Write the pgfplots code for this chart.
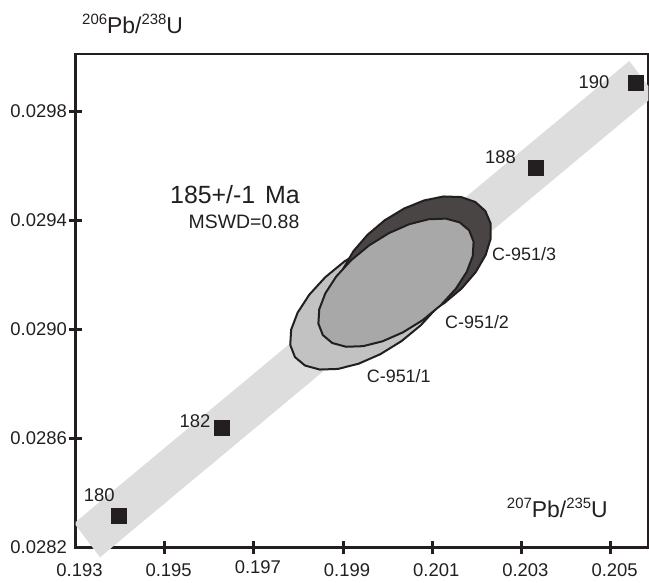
\documentclass[border=0pt]{standalone}
\usepackage{fontspec}
\setmainfont{Liberation Sans}
\usepackage{pgfplots}
\pgfplotsset{compat=1.18}

\definecolor{ink}{RGB}{35,31,32}
\definecolor{bandgray}{RGB}{221,221,221}
\definecolor{ellA}{RGB}{194,194,194}
\definecolor{ellB}{RGB}{168,168,168}
\definecolor{ellC}{RGB}{74,69,69}

\tikzset{
  xlab/.style={anchor=base, xshift=4bp, yshift=-29.2bp, font=\fontsize{18.5}{20}\selectfont},
  ylab/.style={anchor=east, xshift=-8.5bp, font=\fontsize{18.5}{20}\selectfont},
}

\newcommand{\ratio}[2]{\raisebox{9bp}{\fontsize{15}{15}\selectfont #1}Pb/\raisebox{9bp}{\fontsize{15}{15}\selectfont #2}U}

\begin{document}
\begin{tikzpicture}
\useasboundingbox (0,0) rectangle (649bp,583bp);
\begin{axis}[
    at={(75.5bp,35.5bp)}, anchor=south west,
    scale only axis,
    width=572.8bp, height=493.5bp,
    xmin=0.193, xmax=0.205846,
    ymin=0.0282, ymax=0.0300097,
    clip=false,
    scaled ticks=false,
    axis line style={line width=2.5bp, ink},
    xtick pos=left, ytick pos=left,
    tick align=center,
    major tick length=13bp,
    tick style={line width=3bp, ink},
    xtick={0.195,0.197,0.199,0.201,0.203,0.205},
    ytick={0.0286,0.0290,0.0294,0.0298},
    xticklabels={,,,,,}, yticklabels={,,,},
]

% concordia error band
\addplot[draw=none, fill=bandgray] coordinates {
  (0.193,0.028293) (0.193,0.028283) (0.193549,0.028164)
  (0.205846,0.029839) (0.205846,0.029892) (0.205420,0.029984)};

% C-951/1
\addplot[fill=ellA, draw=ink, line width=2bp, line join=round] coordinates {
  (0.201422,0.0293079) (0.201528,0.0292631) (0.201508,0.0292074) (0.201362,0.0291446)
  (0.201101,0.0290789) (0.200743,0.0290149) (0.200312,0.0289569) (0.199837,0.0289089)
  (0.199351,0.0288741) (0.198887,0.0288548) (0.198476,0.0288526) (0.198147,0.0288673)
  (0.197922,0.0288981) (0.197816,0.0289429) (0.197836,0.0289987) (0.197982,0.0290614)
  (0.198243,0.0291271) (0.198601,0.0291911) (0.199032,0.0292491) (0.199507,0.0292971)
  (0.199993,0.0293320) (0.200457,0.0293512) (0.200868,0.0293535) (0.201197,0.0293387)
  (0.201422,0.0293079)};

% C-951/3
\addplot[fill=ellC, draw=ink, line width=2bp, line join=round] coordinates {
  (0.202191,0.0294341) (0.202309,0.0293885) (0.202312,0.0293332) (0.202197,0.0292722)
  (0.201975,0.0292097) (0.201659,0.0291497) (0.201271,0.0290964) (0.200838,0.0290535)
  (0.200388,0.0290240) (0.199954,0.0290096) (0.199564,0.0290116) (0.199245,0.0290297)
  (0.199019,0.0290627) (0.198901,0.0291083) (0.198899,0.0291636) (0.199013,0.0292246)
  (0.199235,0.0292872) (0.199552,0.0293471) (0.199939,0.0294004) (0.200373,0.0294433)
  (0.200822,0.0294729) (0.201256,0.0294872) (0.201646,0.0294852) (0.201965,0.0294671)
  (0.202191,0.0294341)};

% C-951/2
\addplot[fill=ellB, draw=ink, line width=2bp, line join=round] coordinates {
  (0.201828,0.0293631) (0.201928,0.0293211) (0.201909,0.0292689) (0.201772,0.0292099)
  (0.201528,0.0291484) (0.201192,0.0290883) (0.200788,0.0290339) (0.200343,0.0289889)
  (0.199887,0.0289563) (0.199452,0.0289383) (0.199067,0.0289361) (0.198758,0.0289499)
  (0.198547,0.0289789) (0.198447,0.0290209) (0.198466,0.0290732) (0.198603,0.0291321)
  (0.198847,0.0291937) (0.199183,0.0292537) (0.199587,0.0293081) (0.200032,0.0293531)
  (0.200488,0.0293858) (0.200923,0.0294037) (0.201308,0.0294060) (0.201617,0.0293921)
  (0.201828,0.0293631)};

% concordia age marks (Ma)
\addplot[only marks, mark=square*, mark size=7.5bp, color=ink] coordinates {
  (0.19396,0.028318) (0.196285,0.028641) (0.203320,0.029591) (0.205563,0.029906)};

\begin{scope}[every node/.style={text=ink, inner sep=0pt}]
% tick labels
\node[xlab] at (axis cs:0.193,0.0282) {0.193};
\node[xlab] at (axis cs:0.195,0.0282) {0.195};
\node[xlab, yshift=3.4bp] at (axis cs:0.197,0.0282) {0.197};
\node[xlab] at (axis cs:0.199,0.0282) {0.199};
\node[xlab] at (axis cs:0.201,0.0282) {0.201};
\node[xlab] at (axis cs:0.203,0.0282) {0.203};
\node[xlab] at (axis cs:0.205,0.0282) {0.205};
\node[ylab] at (axis cs:0.193,0.0282) {0.0282};
\node[ylab] at (axis cs:0.193,0.0286) {0.0286};
\node[ylab] at (axis cs:0.193,0.0290) {0.0290};
\node[ylab] at (axis cs:0.193,0.0294) {0.0294};
\node[ylab] at (axis cs:0.193,0.0298) {0.0298};

\node[anchor=base, font=\fontsize{18.5}{20}\selectfont] at (axis cs:0.193531,0.028367) {180};
\node[anchor=base, font=\fontsize{18.5}{20}\selectfont] at (axis cs:0.195680,0.028641) {182};
\node[anchor=base, font=\fontsize{18.5}{20}\selectfont] at (axis cs:0.202531,0.029607) {188};
\node[anchor=base, font=\fontsize{18.5}{20}\selectfont] at (axis cs:0.204628,0.029884) {190};

\node[anchor=base west, font=\fontsize{18}{20}\selectfont] at (axis cs:0.202341,0.029254) {C-951/3};
\node[anchor=base west, font=\fontsize{18}{20}\selectfont] at (axis cs:0.201286,0.029004) {C-951/2};
\node[anchor=base west, font=\fontsize{18}{20}\selectfont] at (axis cs:0.199530,0.028806) {C-951/1};

\node[anchor=base, font=\fontsize{25}{27}\selectfont] at (axis cs:0.196577,0.029463) {185+/-1\hspace{3bp} Ma};
\node[anchor=base, font=\fontsize{19.5}{21}\selectfont] at (axis cs:0.196779,0.029370) {MSWD=0.88};

\node[anchor=base west, font=\fontsize{23}{25}\selectfont] at (axis cs:0.193146,0.0300848) {\ratio{206}{238}};
\node[anchor=base east, font=\fontsize{23}{25}\selectfont] at (axis cs:0.204942,0.028311) {\ratio{207}{235}};
\end{scope}
\end{axis}
\end{tikzpicture}
\end{document}
